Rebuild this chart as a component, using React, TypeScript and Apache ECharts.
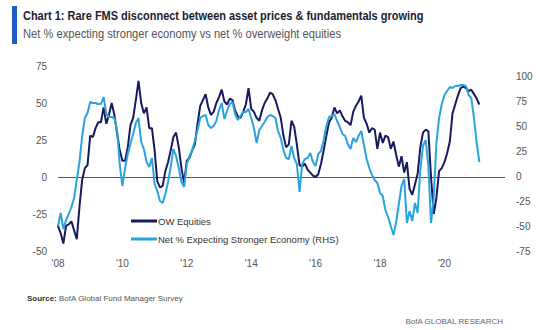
import React, { useEffect, useRef } from "react";
import * as echarts from "echarts";

const startYear = 2008; // monthly data from Jan 2008 to Feb 2021
const xTicks = [2008, 2010, 2012, 2014, 2016, 2018, 2020];

// OW Equities (net %, LHS)
const owEquities = [
  -33, -38, -45, -33, -32, -30, -36, -42, -20, -2, 6, 8,
  28, 27, 33, 37, 37, 47, 36, 42, 50, 42, 30, 18,
  11, 11, 20, 35, 40, 52, 65, 50, 43, 47, 33, 33,
  18, -3, -7, -6, 4, 10, 18, 27, 30, 20, 6, -4,
  11, 13, 18, 22, 36, 48, 52, 56, 47, 42, 44, 50,
  54, 59, 51, 49, 53, 52, 45, 41, 40, 44, 49, 60,
  46, 44, 40, 38, 45, 50, 53, 57, 56, 52, 46, 40,
  28, 20, 22, 38, 34, 22, 8, 7, 9, 5, 3, 1,
  0, 2, 9, 18, 28, 37, 40, 47, 43, 45, 41, 38,
  37, 35, 44, 48, 51, 55, 40, 36, 30, 33, 32, 19,
  30, 23, 28, 27, 19, 24, 15, 7, 14, 3, 10, -8,
  -12, -5, 2, 20, 30, 32, 31, 0, -25, -14, 4, 6,
  10, 16, 24, 43, 49, 55, 60, 61, 60, 58, 59, 56,
  53, 49,
];

// Net % expecting stronger economy (RHS)
const strongerEconomy = [
  -50, -37, -53, -44, -38, -31, -22, -4, 14, 40, 58, 63,
  74, 73, 73, 72, 72, 79, 62, 59, 59, 58, 46, 12,
  -10, 8, 22, 32, 42, 53, 58, 34, 27, 14, 9, 18,
  -8, -15, -25, -27, -18, -6, 9, 27, 20, 8, -6, -11,
  12, 20, 26, 35, 46, 58, 60, 61, 51, 48, 50, 55,
  66, 73, 57, 65, 72, 74, 62, 56, 60, 64, 64, 67,
  58, 48, 33, 46, 50, 54, 59, 61, 60, 58, 45, 38,
  26, 18, 17, 30, 18, 12, -16, 12, 17, 18, 23, 14,
  10, 22, 25, 36, 50, 59, 60, 62, 55, 49, 42, 40,
  32, 27, 38, 34, 40, 45, 31, 17, 8, 1, -4, -7,
  -17, -20, -34, -41, -50, -59, -46, -28, -10, -3, -47, -35,
  -45, -27, -37, 6, 30, 36, 10, -47, -22, 33, 58, 72,
  81, 85, 89, 88, 90, 90, 91, 91, 90, 81, 78, 58,
  33, 14,
];

const leftTicks = { min: -50, max: 75, interval: 25 };
const rightTicks = { min: -75, max: 110, interval: 25 };

const seriesNames = ["OW Equities", "Net % Expecting Stronger Economy (RHS)"];
const colors = ["#171a5c", "#2aa3df"];

export default function App() {
  const ref = useRef<HTMLDivElement>(null);
  useEffect(() => {
    if (!ref.current) return;
    const chart = echarts.init(ref.current, null, { renderer: "svg" });
    const toPts = (arr: number[]) => arr.map((v, i) => [startYear + i / 12, v]);
    const axisFont = { color: "#555", fontSize: 10, fontFamily: "Liberation Sans" };
    chart.setOption({
      animation: false,
      backgroundColor: "#ffffff",
      grid: { left: 58, right: 37, top: 66, bottom: 79 },
      legend: {
        orient: "vertical",
        left: 126,
        top: 211,
        itemWidth: 26,
        itemHeight: 3,
        itemGap: 8,
        icon: "rect",
        textStyle: { color: "#333", fontSize: 9.5, fontFamily: "Liberation Sans", padding: [0, 0, 0, -4] },
        data: seriesNames,
      },
      xAxis: {
        type: "value",
        min: 2008,
        max: 2021.88,
        interval: 2,
        axisLine: { show: false },
        axisTick: { show: false },
        splitLine: { show: false },
        axisLabel: {
          ...axisFont,
          margin: 7,
          showMaxLabel: false,
          formatter: (v: number) =>
            xTicks.includes(Math.round(v)) && Math.abs(v - Math.round(v)) < 1e-6
              ? "'" + String(Math.round(v)).slice(2)
              : "",
        },
      },
      yAxis: [
        {
          type: "value",
          ...leftTicks,
          position: "left",
          axisLine: { show: false },
          axisTick: { show: false },
          splitLine: { show: false },
          axisLabel: { ...axisFont, margin: 11 },
        },
        {
          type: "value",
          ...rightTicks,
          position: "right",
          axisLine: { show: false },
          axisTick: { show: false },
          splitLine: { show: false },
          axisLabel: {
            ...axisFont,
            margin: 11,
            formatter: (v: number) => (v > 100 ? "" : String(v)),
          },
        },
      ],
      series: [
        {
          name: seriesNames[0],
          type: "line",
          yAxisIndex: 0,
          data: toPts(owEquities),
          showSymbol: false,
          symbol: "none",
          lineStyle: { color: colors[0], width: 2 },
          itemStyle: { color: colors[0] },
          z: 3,
          markLine: {
            silent: true,
            symbol: "none",
            label: { show: false },
            lineStyle: { color: "#555", width: 1, type: "solid" },
            data: [{ yAxis: 0 }],
            z: 1,
          },
        },
        {
          name: seriesNames[1],
          type: "line",
          yAxisIndex: 1,
          data: toPts(strongerEconomy),
          showSymbol: false,
          symbol: "none",
          lineStyle: { color: colors[1], width: 2 },
          itemStyle: { color: colors[1] },
          z: 4,
        },
      ],
      graphic: [
        { type: "rect", left: 12, top: 6, shape: { width: 5, height: 38 }, style: { fill: "#1f5bc6" } },
        {
          type: "text",
          x: 23,
          y: 16,
          scaleX: 0.845,
          style: {
            text: "Chart 1: Rare FMS disconnect between asset prices & fundamentals growing",
            fill: "#1c1c30",
            fontSize: 13,
            fontWeight: "bold",
            fontFamily: "Liberation Sans",
            verticalAlign: "middle",
          },
        },
        {
          type: "text",
          x: 23,
          y: 34,
          scaleX: 0.93,
          style: {
            text: "Net % expecting stronger economy vs net % overweight equities",
            fill: "#555",
            fontSize: 12,
            fontFamily: "Liberation Sans",
            verticalAlign: "middle",
          },
        },
        {
          type: "text",
          x: 27,
          y: 298,
          style: {
            text: "{b|Source:} BofA Global Fund Manager Survey",
            fill: "#555",
            fontSize: 8,
            fontFamily: "Liberation Sans",
            verticalAlign: "middle",
            rich: { b: { fontWeight: "bold", fill: "#333", fontSize: 8, fontFamily: "Liberation Sans" } },
          },
        },
        {
          type: "text",
          x: 503,
          y: 321,
          style: {
            text: "BofA GLOBAL RESEARCH",
            fill: "#666",
            fontSize: 8,
            fontFamily: "Liberation Sans",
            align: "right",
            verticalAlign: "middle",
          },
        },
      ],
    });
    return () => chart.dispose();
  }, []);
  return (
    <div
      ref={ref}
      style={{ position: "absolute", left: 0, top: 0, width: 542, height: 330 }}
    />
  );
}
